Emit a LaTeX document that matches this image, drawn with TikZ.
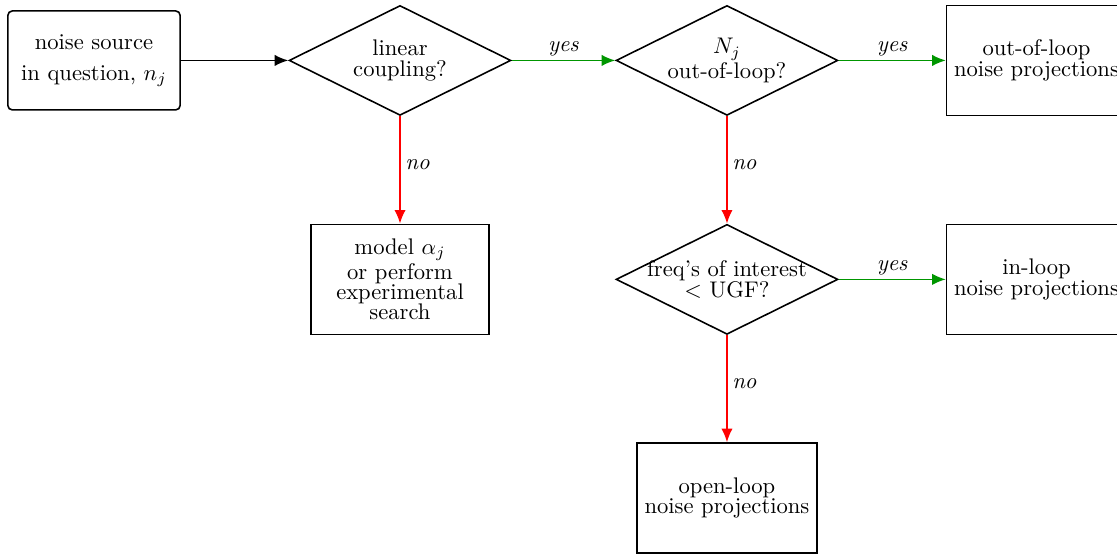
\documentclass[tikz,border=0pt]{standalone}
\usepackage{amsmath,amssymb}
\usepackage{tikz}
\usetikzlibrary{shapes.geometric}
\usetikzlibrary{arrows.meta}
\definecolor{yesgreen}{RGB}{0,150,0}

\begin{document}
\begin{tikzpicture}[
	decision/.style={draw,line width=0.7pt,diamond,aspect=2,inner xsep=-0.5cm,inner ysep=0pt,minimum width=3.45cm,minimum height=1.71cm,align=center,font=\fontsize{10}{9}\selectfont},
	result/.style={draw,line width=0.7pt,rectangle,minimum width=2.76cm,minimum height=1.71cm,align=center,font=\fontsize{10}{9}\selectfont},
	flow/.style={line width=0.7pt,-{Latex[length=6pt,width=5pt]}},
	yesarrow/.style={flow,yesgreen},
	noarrow/.style={flow,red},
	yeslabel/.style={midway,above,inner sep=1.5pt,text=black},
	nolabel/.style={pos=0.45,right,inner sep=2pt,text=black}]
	\def\colA{1.462};
	\def\colB{6.221};
	\def\colC{11.306};
	\def\colD{16.12};
	\def\rowA{-0.94};
	\def\rowB{-4.345};
	\def\rowC{-7.745};
	\useasboundingbox (0,0) rectangle (17.372,-8.616);
	\node[draw,line width=0.7pt,rounded corners=2pt,minimum width=2.68cm,minimum height=1.54cm,align=center,font=\fontsize{10}{13.7}\selectfont] (source) at (\colA,\rowA) {noise source\\in question, $n_j$};
	\node[decision] (linear) at (\colB,\rowA) {linear\\coupling?};
	\node[decision] (outloop) at (\colC,\rowA) {$N_j$\\out-of-loop?};
	\node[result] (outproj) at (\colD,\rowA) {out-of-loop\\noise projections};
	\node[result] (model) at (\colB,\rowB) {model $\alpha_j$\\or perform\\experimental\\search};
	\node[decision] (ugf) at (\colC,\rowB) {freq's of interest\\$<$ UGF?};
	\node[result] (inproj) at (\colD,\rowB) {in-loop\\noise projections};
	\node[result] (openproj) at (\colC,\rowC) {open-loop\\noise projections};
	\draw[flow] (source) -- (linear);
	\draw[yesarrow] (linear) -- node[yeslabel] {\textit{yes}} (outloop);
	\draw[yesarrow] (outloop) -- node[yeslabel] {\textit{yes}} (outproj);
	\draw[yesarrow] (ugf) -- node[yeslabel] {\textit{yes}} (inproj);
	\draw[noarrow] (linear) -- node[nolabel] {\textit{no}} (model);
	\draw[noarrow] (outloop) -- node[nolabel] {\textit{no}} (ugf);
	\draw[noarrow] (ugf) -- node[nolabel] {\textit{no}} (openproj);
\end{tikzpicture}
\end{document}
